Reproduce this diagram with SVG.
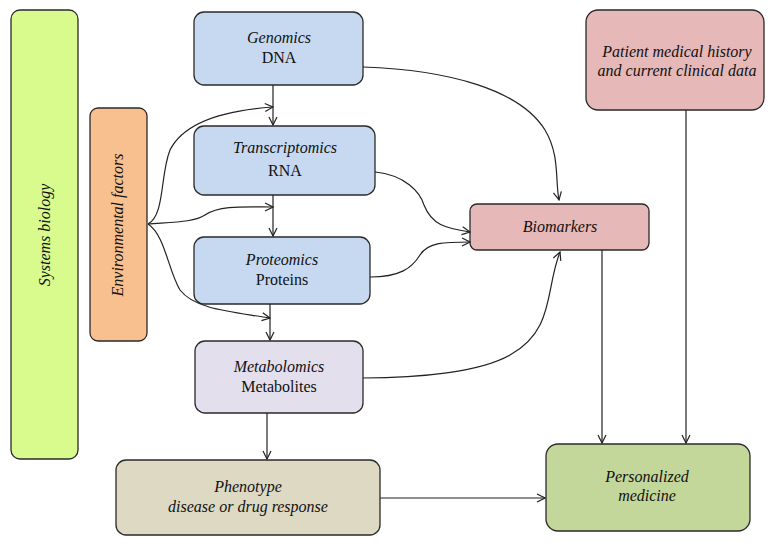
<svg xmlns="http://www.w3.org/2000/svg" width="776" height="546" viewBox="0 0 776 546">
<style>
.box{stroke:#2a2a2a;stroke-width:1.3}
.t{font-family:"Liberation Serif",serif;font-size:16px;fill:#111;text-anchor:middle}
.i{font-style:italic}
.c{fill:none;stroke:#222;stroke-width:1.2}
</style>
<defs>
<marker id="a" viewBox="0 0 10 10" refX="9" refY="5" markerWidth="10" markerHeight="10" markerUnits="userSpaceOnUse" orient="auto">
<path d="M1,1 L9,5 L1,9" fill="none" stroke="#222" stroke-width="1.2"/>
</marker>
</defs>
<rect width="776" height="546" fill="#fff"/>
<g id="systems-biology">
<rect class="box" x="11" y="10" width="67" height="449" rx="9" fill="#d9fb8e"/>
<text class="t i" transform="translate(50,235) rotate(-90)">Systems biology</text>
</g>
<g id="environmental-factors">
<rect class="box" x="90" y="108" width="57" height="233" rx="8" fill="#f9c08f"/>
<text class="t i" transform="translate(123,225) rotate(-90)">Environmental factors</text>
</g>
<g id="genomics">
<rect class="box" x="194" y="12" width="169" height="73" rx="10" fill="#c6d9f0"/>
<text class="t i" x="279" y="43">Genomics</text>
<text class="t" x="279" y="63">DNA</text>
</g>
<g id="transcriptomics">
<rect class="box" x="194" y="126" width="181" height="69" rx="10" fill="#c6d9f0"/>
<text class="t i" x="285" y="153">Transcriptomics</text>
<text class="t" x="285" y="176">RNA</text>
</g>
<g id="proteomics">
<rect class="box" x="194" y="237" width="176" height="67" rx="10" fill="#c6d9f0"/>
<text class="t i" x="282" y="265">Proteomics</text>
<text class="t" x="282" y="285">Proteins</text>
</g>
<g id="metabolomics">
<rect class="box" x="195" y="341" width="168" height="72" rx="10" fill="#e4dfec"/>
<text class="t i" x="279" y="372">Metabolomics</text>
<text class="t" x="279" y="392">Metabolites</text>
</g>
<g id="phenotype">
<rect class="box" x="116" y="460" width="264" height="75" rx="10" fill="#ddd9c3"/>
<text class="t i" x="248" y="492">Phenotype</text>
<text class="t i" x="248" y="512">disease or drug response</text>
</g>
<g id="biomarkers">
<rect class="box" x="470" y="204" width="179" height="46" rx="7" fill="#e6b8b7"/>
<text class="t i" x="560" y="232">Biomarkers</text>
</g>
<g id="patient">
<rect class="box" x="586" y="10" width="178" height="100" rx="12" fill="#e6b8b7"/>
<text class="t i" x="677" y="57">Patient medical history</text>
<text class="t i" x="677" y="76">and current clinical data</text>
</g>
<g id="personalized-medicine">
<rect class="box" x="546" y="444" width="204" height="87" rx="12" fill="#c4d79b"/>
<text class="t i" x="647" y="482">Personalized</text>
<text class="t i" x="647" y="501">medicine</text>
</g>
<g id="connectors">
<path class="c" marker-end="url(#a)" d="M273,85 V125"/>
<path class="c" marker-end="url(#a)" d="M273,195 V236"/>
<path class="c" marker-end="url(#a)" d="M270,304 V340"/>
<path class="c" marker-end="url(#a)" d="M267,413 V459"/>
<path class="c" marker-end="url(#a)" d="M380,498 H545"/>
<path class="c" marker-end="url(#a)" d="M602,250 V443"/>
<path class="c" marker-end="url(#a)" d="M686,110 V443"/>
<path class="c" marker-end="url(#a)" d="M363,67 C450,70 520,90 545,130 C560,155 555,180 559,200"/>
<path class="c" marker-end="url(#a)" d="M375,172 C405,175 420,192 424,205 C432,225 445,228 470,232"/>
<path class="c" marker-end="url(#a)" d="M370,277 C400,277 412,268 420,255 C428,242 445,242 470,242"/>
<path class="c" marker-end="url(#a)" d="M363,378 C420,378 480,372 510,355 C555,330 545,290 560,252"/>
<path class="c" marker-end="url(#a)" d="M148,224 C165,215 160,175 170,150 C185,120 230,110 273,107"/>
<path class="c" marker-end="url(#a)" d="M148,224 C175,222 195,222 205,215 C220,205 245,207 273,207"/>
<path class="c" marker-end="url(#a)" d="M148,224 C165,235 168,270 180,290 C195,310 235,312 270,318"/>
</g>
</svg>
